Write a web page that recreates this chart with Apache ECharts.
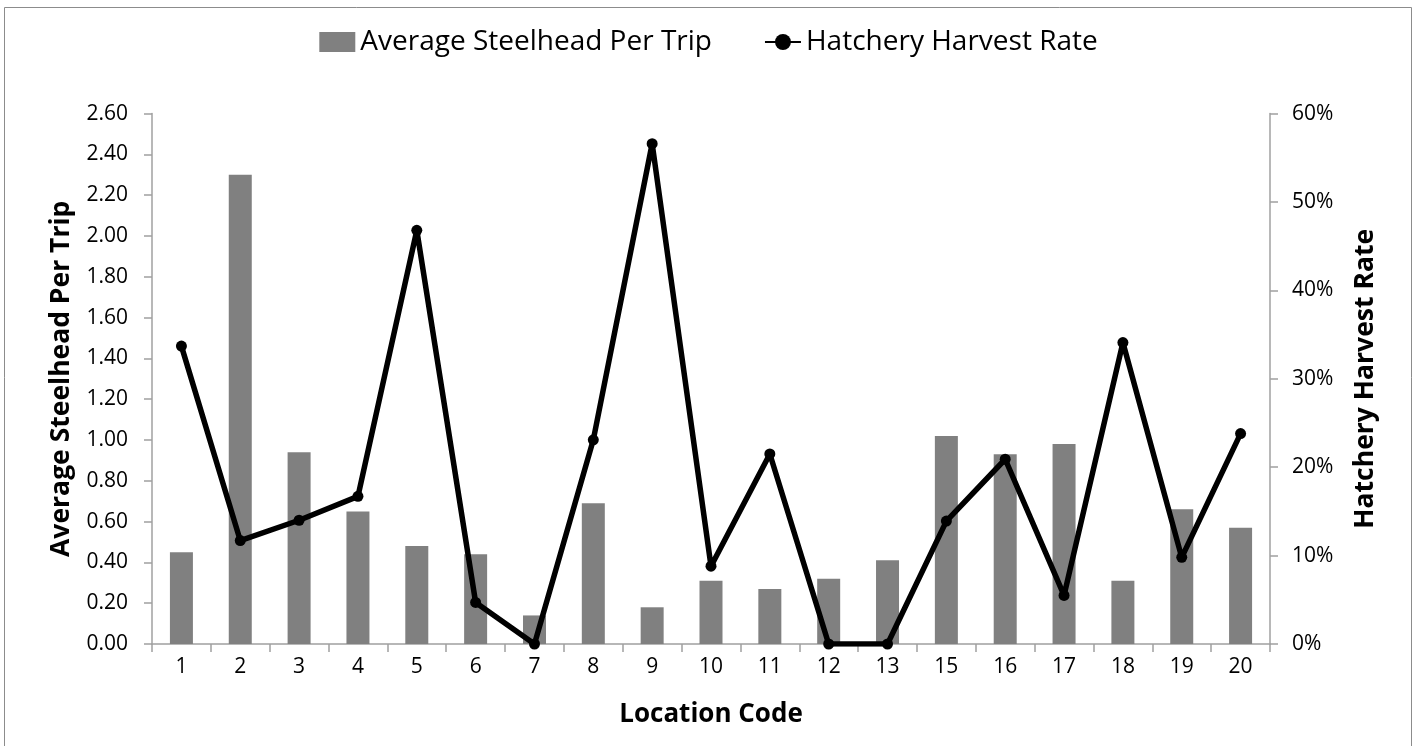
<!DOCTYPE html>
<html>
<head>
<meta charset="utf-8">
<script src="https://cdn.jsdelivr.net/npm/echarts@6/dist/echarts.min.js"></script>
<style>
html,body{margin:0;padding:0;background:#fff;}
#chart{width:1417px;height:746px;}
</style>
</head>
<body>
<div id="chart"></div>
<script>
const categories = ['1','2','3','4','5','6','7','8','9','10','11','12','13','15','16','17','18','19','20'];
const avgSteelheadPerTrip = [0.45,2.30,0.94,0.65,0.48,0.44,0.14,0.69,0.18,0.31,0.27,0.32,0.41,1.02,0.93,0.98,0.31,0.66,0.57];
const hatcheryHarvestRate = [0.337,0.117,0.140,0.167,0.468,0.047,0.0,0.231,0.566,0.088,0.215,0.0,0.0,0.139,0.209,0.055,0.341,0.098,0.238];
const seriesNames = ['Average Steelhead Per Trip','Hatchery Harvest Rate'];

const FONT = 'Open Sans';
const chart = echarts.init(document.getElementById('chart'));
const axisGray = '#a0a0a0';
chart.setOption({
  animation:false,
  backgroundColor:'#fff',
  textStyle:{fontFamily:FONT,color:'#000'},
  graphic:[{type:'rect',shape:{x:4.5,y:7.5,width:1407,height:760},style:{fill:'none',stroke:'#8c8c8c',lineWidth:1},silent:true,z:-1}],
  legend:{
    top:23,left:'center',
    itemWidth:36,itemHeight:20,itemGap:52,
    textStyle:{fontFamily:FONT,fontSize:28,color:'#000'},
    data:[{name:seriesNames[0],icon:'rect'},{name:seriesNames[1]}]
  },
  grid:{left:152,right:147,top:113.6,bottom:102,containLabel:false},
  xAxis:{
    type:'category',data:categories,
    name:'Location Code',nameLocation:'middle',nameGap:58,
    nameTextStyle:{fontFamily:FONT,fontSize:26,fontWeight:'bold',color:'#000'},
    axisLine:{lineStyle:{color:axisGray,width:1.5}},
    axisTick:{show:true,length:8,lineStyle:{color:axisGray,width:1.5}},
    axisLabel:{fontFamily:FONT,fontSize:21,color:'#000',margin:13,interval:0},
    splitLine:{show:false}
  },
  yAxis:[{
    type:'value',min:0,max:2.6,interval:0.2,position:'left',
    name:'Average Steelhead Per Trip',nameLocation:'middle',nameGap:77,nameRotate:90,
    nameTextStyle:{fontFamily:FONT,fontSize:26.5,fontWeight:'bold',color:'#000'},
    axisLine:{show:true,lineStyle:{color:axisGray,width:1.5}},
    axisTick:{show:true,length:8,lineStyle:{color:axisGray,width:1.5}},
    axisLabel:{fontFamily:FONT,fontSize:21,color:'#000',margin:24,formatter:v=>v.toFixed(2)},
    splitLine:{show:false}
  },{
    type:'value',min:0,max:0.6,interval:0.1,position:'right',
    name:'Hatchery Harvest Rate',nameLocation:'middle',nameGap:82,nameRotate:90,
    nameTextStyle:{fontFamily:FONT,fontSize:26.5,fontWeight:'bold',color:'#000'},
    axisLine:{show:true,lineStyle:{color:axisGray,width:1.5}},
    axisTick:{show:true,length:8,lineStyle:{color:axisGray,width:1.5}},
    axisLabel:{fontFamily:FONT,fontSize:21,color:'#000',margin:22,formatter:v=>Math.round(v*100)+'%'},
    splitLine:{show:false}
  }],
  series:[{
    name:seriesNames[0],type:'bar',yAxisIndex:0,data:avgSteelheadPerTrip,
    barWidth:23,itemStyle:{color:'#808080'}
  },{
    name:seriesNames[1],type:'line',yAxisIndex:1,data:hatcheryHarvestRate,
    symbol:'circle',symbolSize:11,
    lineStyle:{color:'#000',width:5.5},itemStyle:{color:'#000'},z:5
  }]
});
</script>
</body>
</html>
